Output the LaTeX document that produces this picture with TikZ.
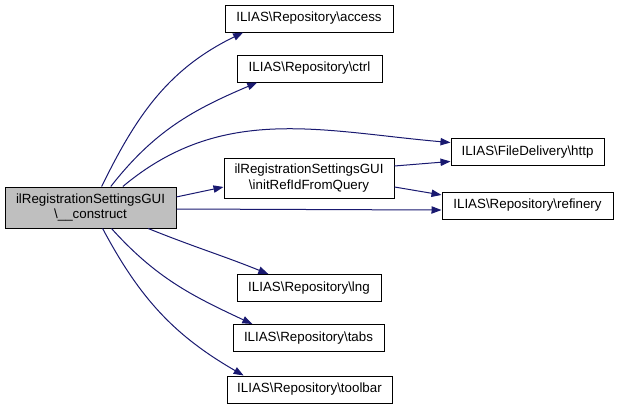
\documentclass[tikz,border=0pt]{standalone}
\usepackage{fontspec}
\setmainfont{Liberation Sans}
\usetikzlibrary{positioning,arrows.meta}
\definecolor{edgeblue}{HTML}{191970}
\definecolor{mainfill}{HTML}{BFBFBF}
\tikzset{fn/.style={draw=black, line width=0.75pt, fill=white, rectangle,
    minimum height=20.25pt, inner sep=0pt, align=center,
    font=\fontsize{10}{11.5}\selectfont},
  mainfn/.style={fn, fill=mainfill, minimum height=30.75pt},
  call/.style={draw=edgeblue, line width=0.75pt,
    -{Triangle[length=7.5pt,width=5.5pt]}}}
\begin{document}
\begin{tikzpicture}[x=0.75pt, y=-0.75pt]
             \useasboundingbox (0,0) rectangle (617,408);

             \node (main) [mainfn, minimum width=128.25pt] at (90.5,207.5) {ilRegistrationSettingsGUI\\\textbackslash\_\_construct};
             \node (init) [fn, minimum width=127.5pt, minimum height=30pt] at (309,178) {ilRegistrationSettingsGUI\\\textbackslash initRefIdFromQuery};

             \node (access) [fn, minimum width=126pt] at (309,18.5) {ILIAS\textbackslash Repository\textbackslash access};
             \node (ctrl) [fn, minimum width=108.75pt] at (309.5,68.5) {ILIAS\textbackslash Repository\textbackslash ctrl};
             \node (http) [fn, minimum width=114.75pt] at (527.5,152) {ILIAS\textbackslash FileDelivery\textbackslash http};
             \node (refinery) [fn, minimum width=128.25pt] at (527.5,205.5) {ILIAS\textbackslash Repository\textbackslash refinery};
             \node (lng) [fn, minimum width=108pt] at (309,288) {ILIAS\textbackslash Repository\textbackslash lng};
             \node (tabs) [fn, minimum width=113.25pt] at (308.5,338) {ILIAS\textbackslash Repository\textbackslash tabs};
             \node (toolbar) [fn, minimum width=123.75pt] at (309.5,389.5) {ILIAS\textbackslash Repository\textbackslash toolbar};

             \draw [call] (main.62.9) to [out=64, in=206] (access.192.5);
             \draw [call] (main.46.4) to [out=52, in=203] (ctrl.195.3);
             \draw [call] (main.33.1) to [out=40, in=175] (http.173.3);
             \draw [call] (main.7.7) -- (init.186.7);
             \draw [call] (main.-1.7) -- (refinery.183);
             \draw [call] (init.8.7) -- (http.187.4);
             \draw [call] (init.-6.7) -- (refinery.173.7);
             \draw [call] (main.-20.3) to [out=-22, in=158] (lng.161.6);
             \draw [call] (main.-45) to [out=-48, in=155] (tabs.166.8);
             \draw [call] (main.-60.7) to [out=-62, in=150] (toolbar.168.1);
          \end{tikzpicture}
\end{document}
